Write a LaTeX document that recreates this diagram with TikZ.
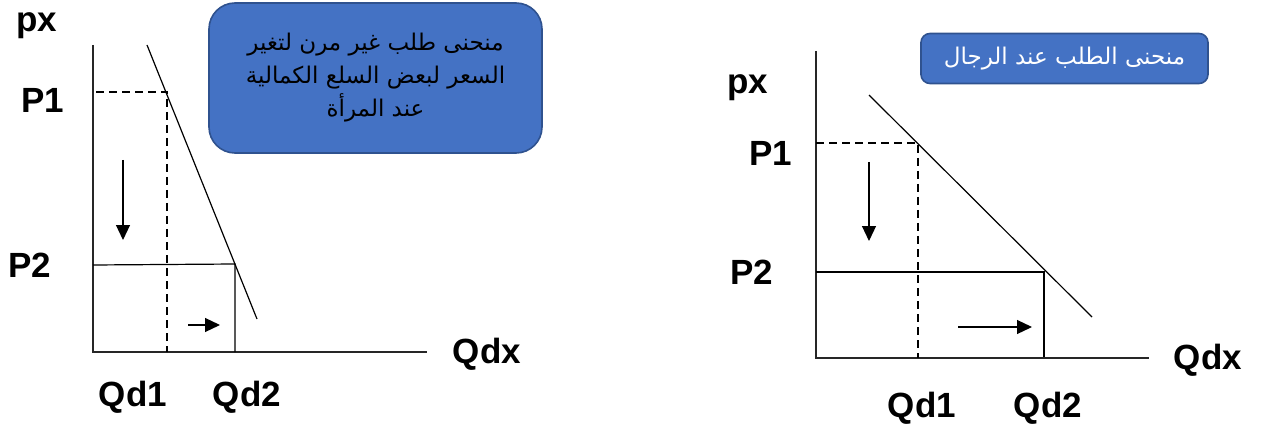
\documentclass[tikz,border=0pt]{standalone}
\usepackage{fontspec}
\setmainfont{Liberation Sans}
\newfontfamily\arabicfont[Script=Arabic]{DejaVu Sans}
\TeXXeTstate=1
\usetikzlibrary{arrows.meta}
\definecolor{boxblue}{HTML}{4472C4}
\definecolor{boxedge}{HTML}{2F528F}
\begin{document}
\begin{tikzpicture}[x=1pt,y=-1pt,
  axis/.style={line width=1.3pt, draw=black!85},
  curve/.style={line width=1.2pt},
  dashline/.style={line width=1.2pt, dash pattern=on 8pt off 5pt},
  lab/.style={font=\fontsize{35}{40}\selectfont\bfseries, inner sep=0pt},
  move/.style={-{Triangle[length=15pt,width=14pt]}, line width=1.2pt},
  callout/.style={fill=boxblue, draw=boxedge, line width=1.6pt, inner sep=0pt, align=center}
]
\useasboundingbox (0,0) rectangle (1262,425);

% ---------- left chart ----------
\coordinate (Y1) at (93,45);
\coordinate (O1) at (93,352);
\coordinate (X1) at (427,352);
\draw[axis] (Y1) -- (O1) -- (X1);
\coordinate (D1a) at (147,45);
\coordinate (D1b) at (257,319);
\draw[curve] (D1a) -- (D1b);
\coordinate (P1L) at (96,92);
\coordinate (E1) at (167,92);
\coordinate (Q1L) at (167,352);
\draw[dashline] (P1L) -- (E1) -- (Q1L);
\coordinate (P2L) at (93,265);
\coordinate (F1) at (235,264);
\coordinate (Q2L) at (235,352);
\draw[curve] (P2L) -- (F1) -- (Q2L);
\coordinate (A1s) at (123,160);
\coordinate (A1e) at (123,240);
\draw[move] (A1s) -- (A1e);
\coordinate (B1s) at (188,325);
\coordinate (B1e) at (220,325);
\draw[move] (B1s) -- (B1e);

\node[lab] (pxL) at (37,26) {px};
\node[lab] (p1L) at (43,100) {P1};
\node[lab] (p2L) at (30,265) {P2};
\node[lab] (qd1L) at (133,397) {Qd1};
\node[lab] (qd2L) at (247,397) {Qd2};
\node[lab] (qdxL) at (487,354) {Qdx};

\node[callout, rounded corners=26pt, minimum width=333pt, minimum height=150pt,
      font=\arabicfont\fontsize{23}{33}\selectfont, text=black] (box1) at (375.5,78)
  {\beginR منحنى طلب غير مرن لتغير\endR\\
   \beginR السعر لبعض السلع الكمالية\endR\\
   \beginR عند المرأة\endR};

% ---------- right chart ----------
\coordinate (Y2) at (816,51);
\coordinate (O2) at (816,358);
\coordinate (X2) at (1149,358);
\draw[axis] (Y2) -- (O2) -- (X2);
\coordinate (D2a) at (869,95);
\coordinate (D2b) at (1092,317);
\draw[curve] (D2a) -- (D2b);
\coordinate (P1R) at (816,143);
\coordinate (E2) at (918,143);
\coordinate (Q1R) at (918,358);
\draw[dashline] (P1R) -- (E2) -- (Q1R);
\coordinate (P2R) at (816,272);
\coordinate (F2) at (1044,272);
\coordinate (Q2R) at (1044,357);
\draw[curve] (P2R) -- (F2) -- (Q2R);
\coordinate (A2s) at (869,162);
\coordinate (A2e) at (869,241);
\draw[move] (A2s) -- (A2e);
\coordinate (B2s) at (958,327);
\coordinate (B2e) at (1032,327);
\draw[move] (B2s) -- (B2e);

\node[lab] (pxR) at (748,88) {px};
\node[lab] (p1R) at (771,153) {P1};
\node[lab] (p2R) at (752,272) {P2};
\node[lab] (qd1R) at (922,408) {Qd1};
\node[lab] (qd2R) at (1048,408) {Qd2};
\node[lab] (qdxR) at (1208,360) {Qdx};

\node[callout, rounded corners=9pt, minimum width=287pt, minimum height=50pt,
      font=\arabicfont\fontsize{23}{26}\selectfont, text=white] (box2) at (1064.5,58.5)
  {\beginR منحنى الطلب عند الرجال\endR};
\end{tikzpicture}
\end{document}
